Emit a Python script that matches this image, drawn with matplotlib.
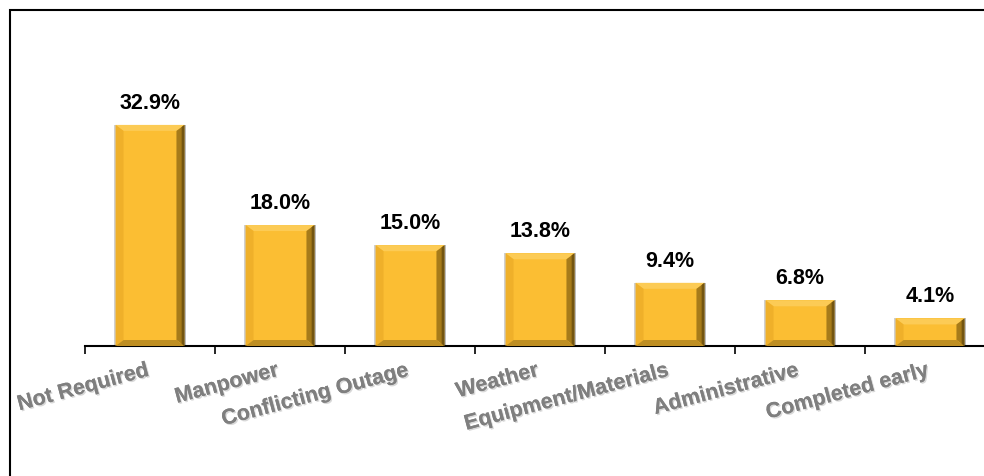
import numpy as np
import matplotlib
matplotlib.use('Agg')
import matplotlib.pyplot as plt
from matplotlib.patches import Polygon, Rectangle
import matplotlib.patheffects as pe

categories = ['Not Required', 'Manpower', 'Conflicting Outage', 'Weather',
              'Equipment/Materials', 'Administrative', 'Completed early']
values = [32.9, 18.0, 15.0, 13.8, 9.4, 6.8, 4.1]

plt.rcParams['font.family'] = ['Liberation Sans', 'DejaVu Sans']

W, H = 984, 476
fig = plt.figure(figsize=(W / 100, H / 100), dpi=100)
# axes spans 7 slots of 130 px, starting at x=85; baseline at y=346
ax = fig.add_axes([85 / W, (H - 346) / H, 910 / W, 296 / H])
ax.set_xlim(-0.5, len(categories) - 0.5)
ax.set_ylim(0, 296 / 6.72)

bar_w = 0.53
face = '#FBBE33'
bars = ax.bar(range(len(values)), values, width=bar_w, color=face,
              edgecolor='none', zorder=2)


def bevel(ax, x0, x1, top, bx, by):
    ''' draws the bevelled edges of one bar, bx/by in data units '''
    sides = [
        ([(x0, top), (x1, top), (x1 - bx, top - by), (x0 + bx, top - by)], '#FCCB55'),  # top
        ([(x0, 0), (x0, top), (x0 + bx, top - by), (x0 + bx, by)], '#EFB02A'),          # left
        ([(x1, 0), (x1, top), (x1 - bx, top - by), (x1 - bx, by)], '#A67B1A'),          # right
        ([(x0, 0), (x1, 0), (x1 - bx, by), (x0 + bx, by)], '#BE8E22'),                  # bottom
    ]
    for pts, c in sides:
        ax.add_patch(Polygon(pts, closed=True, facecolor=c, edgecolor='none', zorder=3))
    # darker outer strip on right
    ax.add_patch(Polygon([(x1 - bx * 0.35, by * 0.35), (x1, 0), (x1, top), (x1 - bx * 0.35, top - by * 0.35)],
                         closed=True, facecolor='#735511', edgecolor='none', zorder=3))


px_x = 1 / 130.0      # data units per pixel in x
px_y = 1 / 6.72       # data units per pixel in y
for b, v in zip(bars, values):
    bevel(ax, b.get_x(), b.get_x() + b.get_width(), v, 8 * px_x, 6 * px_y)
    # faint gray shadow on the sides
    ax.add_patch(Rectangle((b.get_x() - 1.5 * px_x, 0), 1.5 * px_x, v,
                           facecolor='#D0D0D0', edgecolor='none', zorder=1))
    ax.add_patch(Rectangle((b.get_x() + b.get_width(), 0), 2 * px_x, v,
                           facecolor='#BDBDBD', edgecolor='none', zorder=1))
    ax.annotate('%.1f%%' % v, xy=(b.get_x() + b.get_width() / 2, v),
                xytext=(0, 11), textcoords='offset pixels', ha='center', va='bottom',
                fontsize=15.5, fontweight='bold', color='black')

for i, c in enumerate(categories):
    ax.annotate(c, xy=(i, 0), xycoords=('data', 'axes fraction'),
                xytext=(1, -14), textcoords='offset pixels', ha='right', va='top',
                rotation=15, fontsize=15.5, fontweight='bold', color='#7F7F7F',
                path_effects=[pe.withSimplePatchShadow(offset=(1, -1),
                                                       shadow_rgbFace='#C8C8C8', alpha=0.7),
                              pe.Normal()])

for s in ['top', 'right', 'left']:
    ax.spines[s].set_visible(False)
ax.spines['bottom'].set_linewidth(1.5)
ax.set_yticks([])
ax.set_xticks(np.arange(-0.5, len(categories), 1))
ax.set_xticklabels([])
ax.tick_params(axis='x', direction='out', length=6, width=1.2, color='black')

# outer frame of the slide (only top and left are inside the picture)
fig.add_artist(Rectangle((10 / W, -0.1), 2, (H - 10) / H + 0.1, transform=fig.transFigure,
                         fill=False, edgecolor='black', linewidth=1.5, clip_on=False))

fig.savefig('out.png', dpi=100)
